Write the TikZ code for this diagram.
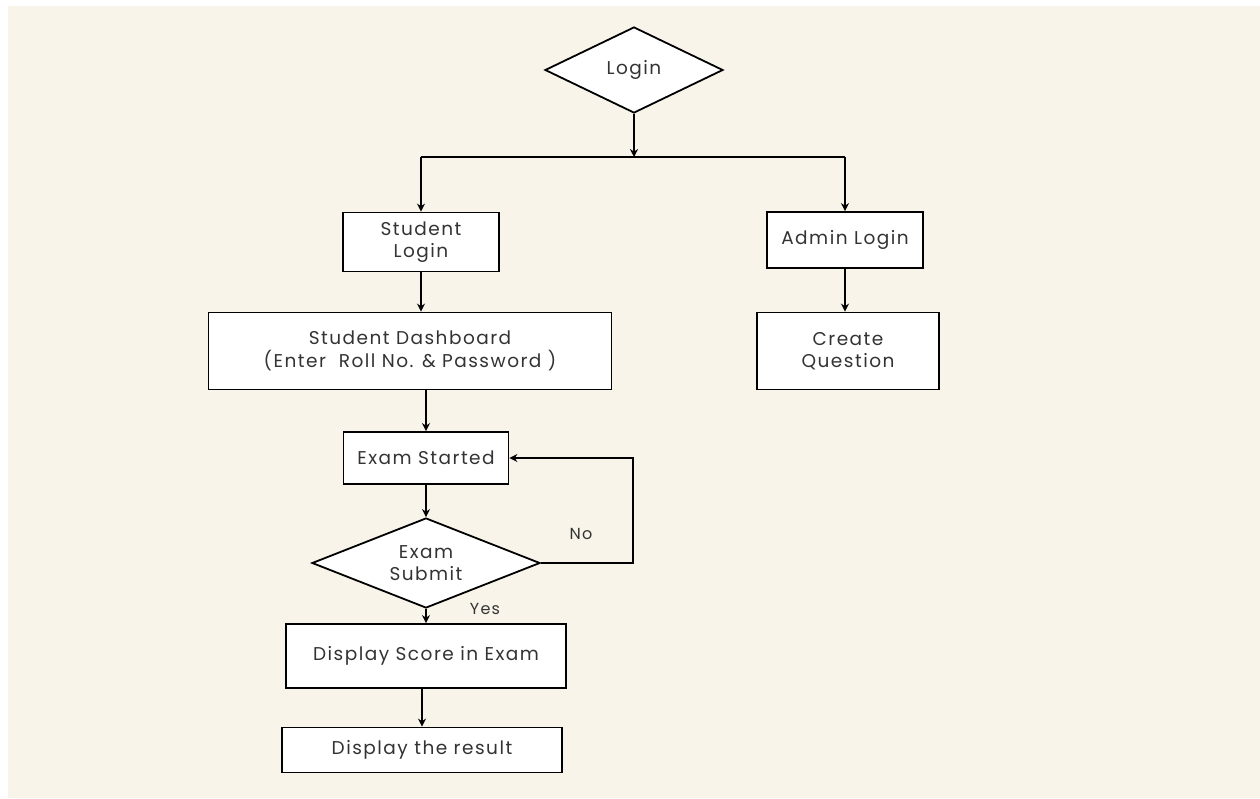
\documentclass[tikz,border=0pt]{standalone}
\usepackage{fontspec}
\setmainfont{Poppins}[LetterSpace=8]
\usepackage{xcolor}
\usetikzlibrary{shapes.geometric, arrows.meta, positioning}
\definecolor{sfondo}{HTML}{F8F4EA}
\definecolor{testo}{HTML}{333333}

\begin{document}
\begin{tikzpicture}[x = 1pt, y = -1pt,
    every node/.style = {text = testo, font = \fontsize{18.5}{22.5}\selectfont, align = center},
    blocco/.style = {draw = black, line width = 1.8pt, fill = white, inner sep = 0pt},
    rombo/.style = {diamond, draw = black, line width = 1.8pt, fill = white, inner sep = 0pt},
    freccia/.style = {line width = 1.8pt, -{Stealth[length = 8pt, width = 8pt]}},
    etichetta/.style = {font = \fontsize{16}{18}\selectfont}]
    % Sfondo
    \useasboundingbox (0,0) rectangle (1260,798);
    \fill[white] (0,0) rectangle (1260,798);
    \fill[sfondo] (8,6) rectangle (1260,798);
    % Nodi
    \node[rombo, aspect = 2, minimum width = 178pt, minimum height = 86pt] (login) at (634,70) {Login};
    \coordinate (split) at (634,157);
    \node[blocco, minimum width = 156pt, minimum height = 59pt] (stulogin) at (421,242) {Student\\Login};
    \node[blocco, minimum width = 156pt, minimum height = 56pt] (admlogin) at (845,240) {Admin Login};
    \node[blocco, minimum width = 403pt, minimum height = 77pt] (dashboard) at (410,351) {Student Dashboard\\(Enter\ \ Roll No. \& Password )};
    \node[blocco, minimum width = 182pt, minimum height = 77pt] (question) at (848,351) {Create\\Question};
    \node[blocco, minimum width = 165pt, minimum height = 52pt] (started) at (426,458) {Exam Started};
    \node[rombo, aspect = 2.5, minimum width = 228pt, minimum height = 90pt] (submit) at (426,563) {Exam\\Submit};
    \node[blocco, minimum width = 280pt, minimum height = 64pt] (score) at (426,656) {Display Score in Exam};
    \node[blocco, minimum width = 280pt, minimum height = 45pt] (result) at (422,750) {Display the result};
    \coordinate (ritorno) at (633,458);
    % Etichette
    \node[etichetta] (no) at (581,534) {No};
    \node[etichetta] (yes) at (485,609) {Yes};
    % Frecce
    \draw[freccia] (login) -- (split);
    \draw[line width = 1.8pt] (split) -- (split -| stulogin) (split) -- (split -| admlogin);
    \draw[freccia] (split -| stulogin) -- (stulogin);
    \draw[freccia] (split -| admlogin) -- (admlogin);
    \draw[freccia] (stulogin) -- (stulogin |- dashboard.north);
    \draw[freccia] (admlogin) -- (admlogin |- question.north);
    \draw[freccia] (started |- dashboard.south) -- (started);
    \draw[freccia] (started) -- (submit);
    \draw[freccia] (submit.east) -| (ritorno) -- (started.east);
    \draw[freccia] (submit) -- (score);
    \draw[freccia] (result |- score.south) -- (result);
\end{tikzpicture}
\end{document}
